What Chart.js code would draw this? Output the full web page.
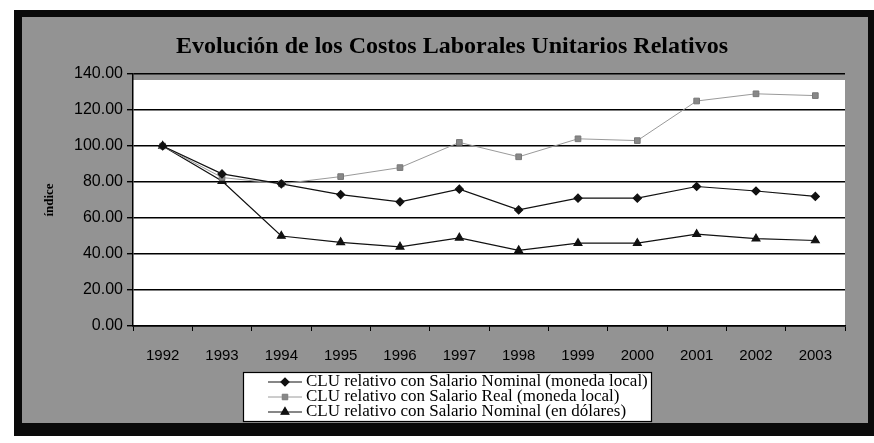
<!DOCTYPE html>
<html>
<head>
<meta charset="utf-8">
<script src="https://cdn.jsdelivr.net/npm/chart.js@4.4.1/dist/chart.umd.min.js"></script>
<style>
  html, body { margin: 0; padding: 0; background: #fff; }
  #wrap { width: 874px; height: 443px; }
</style>
</head>
<body>
<div id="wrap"><canvas id="chart" width="874" height="443"></canvas></div>
<script>
var years = ["1992", "1993", "1994", "1995", "1996", "1997", "1998", "1999", "2000", "2001", "2002", "2003"];
var nominalLocal = [100, 84.5, 79, 73, 69, 76, 64.5, 71, 71, 77.5, 75, 72];
var realLocal = [100, 82.5, 79, 83, 88, 102, 94, 104, 103, 125, 129, 128];
var nominalUsd = [100, 80.5, 50, 46.5, 44, 49, 42, 46, 46, 51, 48.5, 47.5];

var chartTitle = "Evolución de los Costos Laborales Unitarios Relativos";
var yTitle = "índice";

// frame, gray background and white plot area
var framePlugin = {
  id: "frame",
  beforeDraw: function(chart) {
    var c = chart.ctx;
    var a = chart.chartArea;
    c.save();
    c.fillStyle = "#ffffff";
    c.fillRect(0, 0, chart.width, chart.height);
    c.fillStyle = "#0a0a0a";
    c.fillRect(14, 10, 860, 426);
    c.fillStyle = "#939393";
    c.fillRect(22, 17, 846, 406);
    c.fillStyle = "#ffffff";
    c.fillRect(a.left, a.top + 6, a.right - a.left, a.bottom - a.top - 6);
    c.restore();
  },
  afterDraw: function(chart) {
    var c = chart.ctx;
    c.save();
    c.fillStyle = "#000";
    c.font = "bold 24px 'Liberation Serif'";
    c.textAlign = "center";
    c.textBaseline = "middle";
    c.fillText(chartTitle, 452, 47);
    c.restore();
  }
};

// legend: one entry per line inside a white box
var boxLegend = {
  id: "boxLegend",
  afterDraw: function(chart) {
    var c = chart.ctx;
    var x0 = 243, y0 = 372, w = 408, h = 49;
    c.save();
    c.fillStyle = "#fff";
    c.fillRect(x0, y0, w, h);
    c.strokeStyle = "#000";
    c.lineWidth = 1.2;
    c.strokeRect(x0 + 0.5, y0 + 0.5, w, h);
    chart.data.datasets.forEach(function(ds, i) {
      var y = y0 + 10 + i * 15;
      c.strokeStyle = ds.borderColor;
      c.lineWidth = ds.borderWidth;
      c.beginPath();
      c.moveTo(268, y);
      c.lineTo(302, y);
      c.stroke();
      Chart.helpers.drawPoint(c, {
        pointStyle: ds.pointStyle,
        radius: ds.pointRadius,
        borderWidth: 1,
        rotation: 0
      }, 285, y);
      c.fillStyle = ds.pointBackgroundColor;
      c.strokeStyle = ds.pointBorderColor;
      c.fill();
      c.fillStyle = "#000";
      c.font = "17px 'Liberation Serif'";
      c.textBaseline = "middle";
      c.textAlign = "left";
      c.fillText(ds.label, 306, y);
    });
    c.restore();
  }
};

var ctx = document.getElementById("chart").getContext("2d");

var myChart = new Chart(ctx, {
  type: "line",
  data: {
    labels: years,
    datasets: [
      {
        label: "CLU relativo con Salario Nominal (moneda local)",
        data: nominalLocal,
        borderColor: "#111",
        borderWidth: 1.2,
        pointStyle: "rectRot",
        pointRadius: 4,
        pointBackgroundColor: "#111",
        pointBorderColor: "#111",
        tension: 0
      },
      {
        label: "CLU relativo con Salario Real (moneda local)",
        data: realLocal,
        borderColor: "#9a9a9a",
        borderWidth: 1,
        pointStyle: "rect",
        pointRadius: 4,
        pointBackgroundColor: "#888",
        pointBorderColor: "#777",
        tension: 0
      },
      {
        label: "CLU relativo con Salario Nominal (en dólares)",
        data: nominalUsd,
        borderColor: "#111",
        borderWidth: 1.2,
        pointStyle: "triangle",
        pointRadius: 4.5,
        pointBackgroundColor: "#111",
        pointBorderColor: "#111",
        tension: 0
      }
    ]
  },
  plugins: [framePlugin, boxLegend],
  options: {
    responsive: false,
    animation: false,
    layout: {
      padding: { left: 22, top: 74, right: 29, bottom: 77 }
    },
    plugins: {
      legend: { display: false },
      title: { display: false },
      tooltip: { enabled: false }
    },
    scales: {
      x: {
        offset: true,
        afterFit: function(scale) { scale.height = 40; },
        grid: {
          offset: true,
          drawOnChartArea: false,
          drawTicks: true,
          tickLength: 5,
          color: "#000",
          lineWidth: 1
        },
        border: { color: "#000", width: 1.5 },
        ticks: {
          color: "#000",
          padding: 16,
          maxRotation: 0,
          font: { family: "'Liberation Sans'", size: 15 }
        }
      },
      y: {
        min: 0,
        max: 140,
        afterFit: function(scale) { scale.width = 111; },
        grid: {
          color: "#000",
          lineWidth: 1.4,
          tickLength: 6
        },
        border: { color: "#000", width: 1.5 },
        ticks: {
          stepSize: 20,
          color: "#000",
          padding: 4,
          font: { family: "'Liberation Sans'", size: 16 },
          callback: function(v) { return v.toFixed(2); }
        },
        title: {
          display: true,
          text: yTitle,
          color: "#000",
          padding: { top: 20, bottom: 0 },
          font: { family: "'Liberation Serif'", size: 13, weight: "bold" }
        }
      }
    }
  }
});
</script>
</body>
</html>
